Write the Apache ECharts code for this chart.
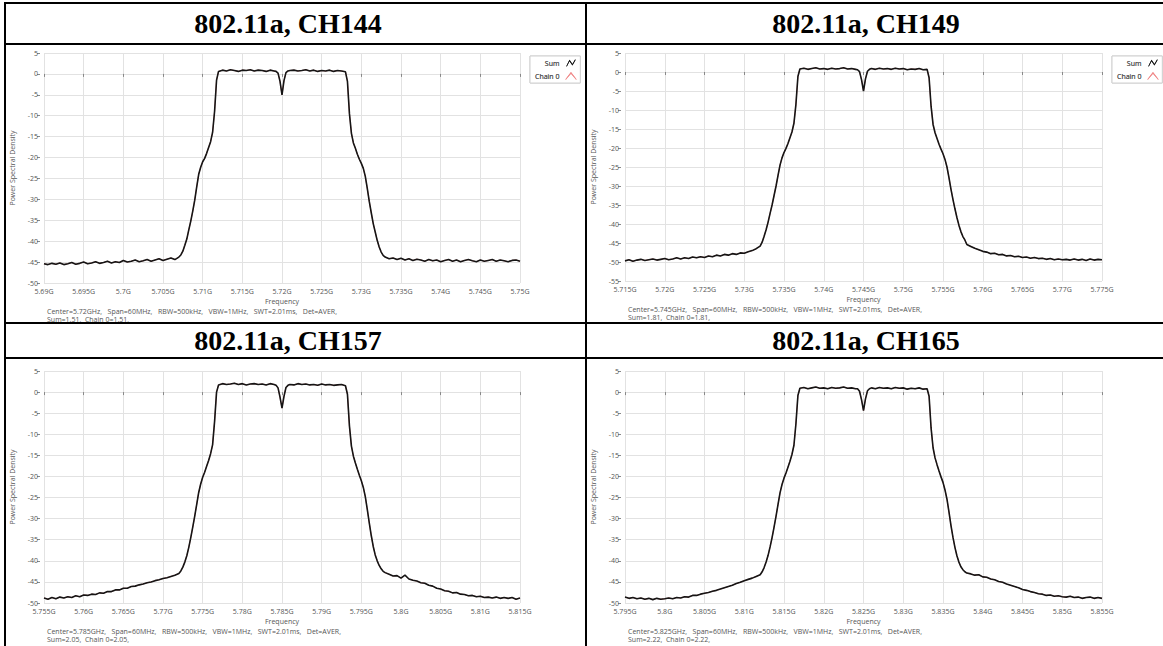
<!DOCTYPE html>
<html>
<head>
<meta charset="utf-8">
<script src="https://cdn.jsdelivr.net/npm/echarts@6/dist/echarts.min.js"></script>
<style>
html,body{margin:0;padding:0;background:#fff;}
#chart{width:1163px;height:646px;}
</style>
</head>
<body>
<div id="chart"></div>
<script>
// Frequency offsets from channel centre (MHz)
const freqOffsets = [
 -30,-29.5,-29,-28.5,-28,-27.5,-27,-26.5,-26,-25.5,-25,-24.5,-24,-23.5,-23,-22.5,-22,-21.5,-21,-20.5,
 -20,-19.5,-19,-18.5,-18,-17.5,-17,-16.5,-16,-15.5,-15,-14.5,-14,-13.5,-13,
 -12.75,-12.5,-12.25,-12,-11.75,-11.5,-11.25,-11,-10.75,-10.5,-10.25,-10,-9.75,-9.5,-9.25,-9,-8.75,-8.5,-8.25,
 -8,-7.5,-7,-6.5,-6,-5.5,-5,-4.5,-4,-3.5,-3,-2.5,-2,-1.5,-1,
 -0.75,-0.5,-0.25,0,0.25,0.5,0.75,
 1,1.5,2,2.5,3,3.5,4,4.5,5,5.5,6,6.5,7,7.5,8,
 8.25,8.5,8.75,9,9.25,9.5,9.75,10,10.25,10.5,10.75,11,11.25,11.5,11.75,12,12.25,12.5,12.75,
 13,13.5,14,14.5,15,15.5,16,16.5,17,17.5,18,18.5,19,19.5,20,20.5,21,21.5,22,22.5,
 23,23.5,24,24.5,25,25.5,26,26.5,27,27.5,28,28.5,29,29.5,30
];

const ch144 = [
 -45.4,-45.6,-45.3,-45.5,-45.2,-45.6,-45.4,-45.1,-45.5,-45.3,-45.0,-45.4,-45.2,-44.9,-45.3,-45.1,-44.8,-45.2,-44.9,-45.1,
 -44.6,-45.0,-44.8,-44.5,-44.9,-44.7,-44.4,-44.8,-44.5,-44.2,-44.6,-44.3,-44.0,-44.4,-43.8,
 -43.3,-42.4,-41.0,-39.5,-37.3,-35.2,-32.8,-30.2,-27.0,-24.0,-22.3,-21.0,-20.2,-19.0,-17.6,-16.2,-14.0,-9.0,-1.5,
 0.6,0.9,0.7,1.0,0.8,0.6,0.9,0.8,1.0,0.7,0.9,0.8,0.6,0.9,0.7,
 0.6,0.2,-1.8,-5.0,-1.6,0.3,0.7,
 0.8,0.9,0.7,0.8,1.0,0.7,0.9,0.6,0.8,0.7,0.9,0.6,0.8,0.7,0.5,
 -1.8,-9.5,-14.2,-16.5,-17.8,-19.2,-20.4,-21.4,-22.6,-24.5,-27.4,-30.5,-33.2,-35.8,-37.8,-39.8,-41.4,-42.6,-43.4,
 -43.8,-44.2,-44.0,-44.4,-44.1,-44.5,-44.2,-44.6,-44.3,-44.5,-44.8,-44.4,-44.7,-44.5,-44.9,-44.6,-44.4,-44.8,-44.5,-44.9,
 -44.6,-44.4,-44.7,-44.9,-44.5,-44.8,-44.6,-44.4,-44.8,-44.5,-44.7,-44.9,-44.6,-44.5,-44.8
];

const ch149 = [
 -49.7,-49.4,-49.8,-49.5,-49.3,-49.6,-49.4,-49.2,-49.5,-49.3,-49.1,-49.4,-49.2,-48.9,-49.2,-48.9,-49.1,-48.7,-48.9,-48.6,
 -48.8,-48.4,-48.6,-48.2,-48.4,-48.0,-48.2,-47.8,-48.0,-47.6,-47.7,-47.3,-47.0,-46.5,-45.8,
 -44.8,-43.2,-41.5,-39.5,-37.2,-35.0,-32.5,-30.0,-27.2,-24.5,-22.6,-21.2,-20.1,-18.8,-17.3,-15.8,-13.5,-8.5,-1.2,
 0.8,1.0,0.7,0.9,1.1,0.8,0.9,0.7,1.0,0.8,0.9,1.1,0.8,0.9,0.7,
 0.6,0.1,-2.0,-5.0,-1.8,0.2,0.7,
 0.9,0.7,1.0,0.8,0.9,0.7,1.0,0.8,0.9,0.6,0.8,0.7,0.9,0.6,0.7,
 -1.5,-9.0,-13.8,-16.0,-17.5,-19.0,-20.3,-21.5,-23.0,-25.0,-27.8,-30.8,-33.5,-36.0,-38.3,-40.3,-42.0,-43.3,-44.2,
 -45.4,-45.9,-46.4,-46.8,-47.2,-47.4,-47.8,-47.7,-48.1,-48.0,-48.4,-48.3,-48.6,-48.5,-48.8,-48.7,-49.0,-48.8,-49.1,-49.0,
 -49.3,-49.1,-49.4,-49.2,-49.4,-49.3,-49.5,-49.2,-49.5,-49.3,-49.6,-49.2,-49.5,-49.3,-49.4
];

const ch157 = [
 -48.8,-49.1,-48.7,-49.0,-48.6,-48.8,-48.5,-48.7,-48.3,-48.5,-48.1,-48.2,-47.9,-48.0,-47.6,-47.7,-47.3,-47.3,-46.9,-46.9,
 -46.5,-46.5,-46.1,-46.0,-45.7,-45.5,-45.2,-45.0,-44.7,-44.5,-44.2,-44.0,-43.7,-43.4,-43.0,
 -42.4,-41.5,-40.3,-38.8,-36.8,-34.5,-32.0,-29.4,-26.6,-23.8,-21.8,-20.2,-19.0,-17.6,-16.2,-14.6,-12.5,-7.0,0.0,
 1.7,2.0,1.8,1.9,2.1,1.8,2.0,1.7,1.9,2.0,1.8,1.9,1.7,2.0,1.8,
 1.6,1.0,-1.2,-3.8,-1.0,1.1,1.6,
 1.8,1.7,2.0,1.8,1.9,1.7,1.8,1.6,1.9,1.7,1.8,1.6,1.7,1.8,1.5,
 -0.5,-8.0,-12.8,-15.2,-16.8,-18.3,-19.7,-21.0,-22.6,-24.8,-27.8,-31.0,-34.0,-36.6,-38.6,-40.0,-41.1,-41.9,-42.5,
 -42.8,-43.2,-43.6,-43.5,-44.1,-43.4,-44.3,-44.6,-44.8,-45.2,-45.3,-45.8,-46.0,-46.5,-46.7,-47.1,-47.2,-47.6,-47.5,-47.9,
 -48.0,-48.3,-48.2,-48.5,-48.4,-48.7,-48.6,-48.8,-48.6,-48.9,-48.7,-48.9,-48.7,-49.1,-48.8
];

const ch165 = [
 -48.6,-48.9,-48.7,-49.0,-48.8,-49.1,-48.9,-49.2,-48.9,-49.1,-49.0,-48.8,-49.0,-48.7,-48.8,-48.5,-48.6,-48.2,-48.2,-47.9,
 -47.7,-47.5,-47.2,-47.0,-46.7,-46.4,-46.1,-45.8,-45.4,-45.1,-44.7,-44.4,-44.1,-43.7,-43.3,
 -42.6,-41.6,-40.3,-38.7,-36.7,-34.5,-32.0,-29.4,-26.6,-23.9,-21.9,-20.4,-19.2,-17.8,-16.4,-14.8,-12.6,-7.5,-0.8,
 0.9,1.1,0.8,1.0,1.2,0.9,1.0,0.8,1.1,0.9,1.0,1.2,0.9,1.0,0.8,
 0.8,0.2,-1.8,-4.4,-1.6,0.3,0.8,
 1.0,0.8,1.1,0.9,1.0,0.8,1.1,0.9,1.0,0.7,0.9,0.8,1.0,0.7,0.8,
 -1.0,-8.5,-13.2,-15.6,-17.2,-18.7,-20.1,-21.4,-23.2,-25.4,-28.4,-31.6,-34.4,-36.8,-38.8,-40.3,-41.4,-42.1,-42.6,
 -42.9,-43.1,-43.4,-43.3,-43.8,-43.9,-44.3,-44.5,-44.9,-45.1,-45.5,-45.8,-46.1,-46.4,-46.8,-47.0,-47.3,-47.5,-47.8,-47.9,
 -48.2,-48.1,-48.4,-48.3,-48.5,-48.6,-48.4,-48.7,-48.6,-48.9,-48.7,-48.6,-48.9,-48.7,-48.9
];

const channelValues = [ch144, ch149, ch157, ch165];
const centersMHz = [5720, 5745, 5785, 5825];
const spanMHz = 60;
const titles = ['802.11a, CH144', '802.11a, CH149', '802.11a, CH157', '802.11a, CH165'];
const yMins = [-50, -55, -50, -50];
const yMax = 5;
const infoLine1 = [
 'Center=5.72GHz,   Span=60MHz,   RBW=500kHz,   VBW=1MHz,   SWT=2.01ms,   Det=AVER,',
 'Center=5.745GHz,   Span=60MHz,   RBW=500kHz,   VBW=1MHz,   SWT=2.01ms,   Det=AVER,',
 'Center=5.785GHz,   Span=60MHz,   RBW=500kHz,   VBW=1MHz,   SWT=2.01ms,   Det=AVER,',
 'Center=5.825GHz,   Span=60MHz,   RBW=500kHz,   VBW=1MHz,   SWT=2.01ms,   Det=AVER,'
];
const infoLine2 = [
 'Sum=1.51,  Chain 0=1.51,',
 'Sum=1.81,  Chain 0=1.81,',
 'Sum=2.05,  Chain 0=2.05,',
 'Sum=2.22,  Chain 0=2.22,'
];
const seriesNames = ['Sum', 'Chain 0'];

// ---------- layout ----------
const grids = [
 {left: 44, top: 53, width: 476, height: 230},
 {left: 625, top: 53, width: 477, height: 228},
 {left: 44, top: 371, width: 476, height: 232},
 {left: 625, top: 371, width: 477, height: 232}
];
const titleY = [23, 23, 340, 340];
const titleX = [288, 866, 288, 866];
const labelFont = '"Open Sans", "Noto Sans", sans-serif';

function fmtFreq(v) {
  let s = (v / 1000).toFixed(3).replace(/0+$/, '').replace(/\.$/, '');
  return s + 'G';
}

const zigSum = 'path://M0,9 L4,1 L8,7 L12,0 L12,2 L8,9 L4,3 L0,11 Z';
const zigChain = 'path://M0,10 L6,2 L12,10 L12,11 L6,4 L0,11 Z';

const xAxes = [], yAxes = [], series = [], legends = [], graphics = [];

grids.forEach((g, i) => {
  const c = centersMHz[i];
  const bottom = g.top + g.height;
  xAxes.push({
    gridIndex: i, type: 'value',
    min: c - spanMHz / 2, max: c + spanMHz / 2, interval: 5,
    axisLine: {show: false},
    axisTick: {show: true, length: 3, lineStyle: {color: '#888'}},
    axisLabel: {fontSize: 7, color: '#555', fontFamily: labelFont, margin: 4, formatter: fmtFreq,
                showMinLabel: true, showMaxLabel: true, lineHeight: 8},
    splitLine: {show: true, lineStyle: {color: '#e2e2e2', width: 1}}
  });
  yAxes.push({
    gridIndex: i, type: 'value', min: yMins[i], max: yMax, interval: 5,
    name: 'Power Spectral Density', nameLocation: 'middle', nameGap: 24, nameRotate: 90,
    nameTextStyle: {fontSize: 7, color: '#555', fontFamily: labelFont},
    offset: 4,
    axisLine: {show: false},
    axisTick: {show: true, length: 3, lineStyle: {color: '#888'}},
    axisLabel: {fontSize: 7, color: '#555', fontFamily: labelFont, margin: 2},
    splitLine: {show: true, lineStyle: {color: '#e2e2e2', width: 1}}
  });
  const vals = channelValues[i];
  const data = freqOffsets.map((o, k) => [c + o, vals[k]]);
  series.push({
    name: 'Chain 0', type: 'line', xAxisIndex: i, yAxisIndex: i, data: data,
    showSymbol: false, symbol: 'none', animation: false, z: 2,
    lineStyle: {color: '#f08a8a', width: 1}, itemStyle: {color: '#f08a8a'}
  });
  series.push({
    name: 'Sum', type: 'line', xAxisIndex: i, yAxisIndex: i, data: data,
    showSymbol: false, symbol: 'none', animation: false, z: 3,
    lineStyle: {color: '#151515', width: 1.6}, itemStyle: {color: '#151515'}
  });
  legends.push({
    left: g.left + g.width + 10, top: 56, orient: 'vertical', align: 'right',
    itemWidth: 13, itemHeight: 8, itemGap: 5,
    padding: [3, 4, 3, 5], borderColor: '#d0d0d0', borderWidth: 1, backgroundColor: '#fff',
    selectedMode: false,
    textStyle: {fontSize: 7, color: '#555', fontFamily: labelFont},
    data: [{name: 'Sum', icon: zigSum}, {name: 'Chain 0', icon: zigChain}]
  });
  // titles
  graphics.push({
    type: 'text', x: titleX[i], y: titleY[i],
    style: {text: titles[i], fill: '#000', font: 'bold 28px "Liberation Serif", "Times New Roman", serif',
            textAlign: 'center', textVerticalAlign: 'middle'}
  });
  // x-axis name
  graphics.push({
    type: 'text', x: g.left + g.width / 2, y: bottom + 18.5,
    style: {text: 'Frequency', fill: '#555', font: '7px ' + labelFont, lineHeight: 8,
            textAlign: 'center', textVerticalAlign: 'middle'}
  });
  // info lines
  graphics.push({
    type: 'text', x: g.left + 3, y: bottom + 28,
    style: {text: infoLine1[i], fill: '#555', font: '7px ' + labelFont, lineHeight: 8, textVerticalAlign: 'middle'}
  });
  graphics.push({
    type: 'text', x: g.left + 3, y: bottom + 36.5,
    style: {text: infoLine2[i], fill: '#555', font: '7px ' + labelFont, lineHeight: 8, textVerticalAlign: 'middle'}
  });
});

// table borders (right and bottom edges fall outside the cropped picture)
const hLines = [3, 44, 323, 358];
const vLines = [5, 586];
hLines.forEach(y => graphics.push({type: 'line', shape: {x1: 4, y1: y, x2: 1163, y2: y},
  style: {stroke: '#000', lineWidth: 2}, z: 100}));
vLines.forEach(x => graphics.push({type: 'line', shape: {x1: x, y1: 2, x2: x, y2: 646},
  style: {stroke: '#000', lineWidth: 2}, z: 100}));

const chart = echarts.init(document.getElementById('chart'), null, {renderer: 'svg'});
chart.setOption({
  animation: false,
  backgroundColor: '#fff',
  grid: grids.map(g => Object.assign({containLabel: false}, g)),
  xAxis: xAxes,
  yAxis: yAxes,
  legend: legends,
  series: series,
  graphic: graphics
});
</script>
</body>
</html>
